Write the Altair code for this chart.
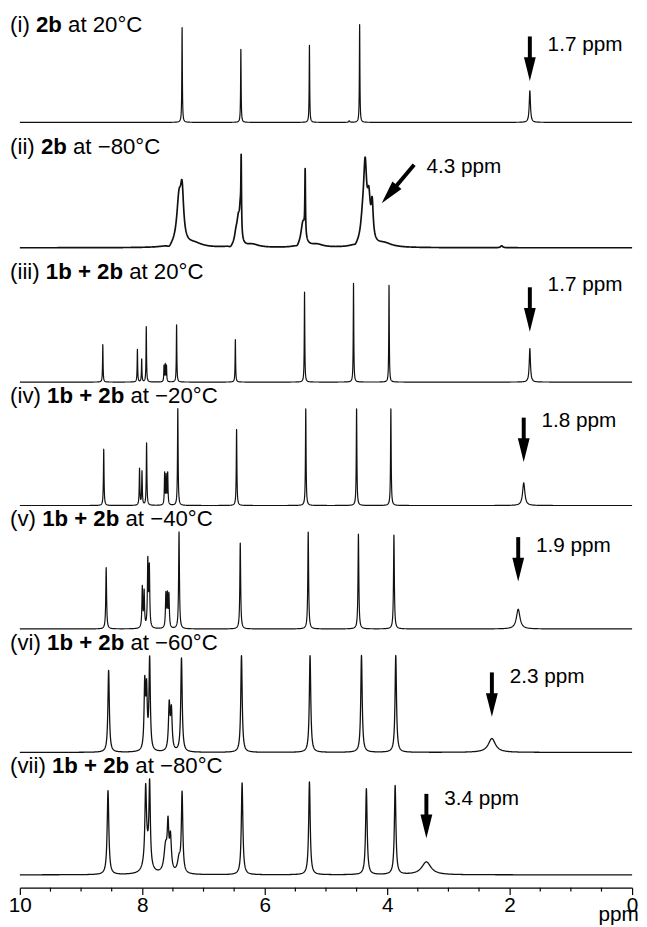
import numpy as np
import pandas as pd
import altair as alt

FONT = "Liberation Sans"

# ---------------- axis ----------------
MAJOR_TICKS = [10, 8, 6, 4, 2, 0]
MINOR_TICKS = [9.5, 9, 8.5, 7.5, 7, 6.5, 5.5, 5, 4.5, 3.5, 3, 2.5, 1.5, 1, 0.5]
AXIS_UNIT = "ppm"

# ---------------- spectrum labels ----------------
NUMERALS = ["(i)", "(ii)", "(iii)", "(iv)", "(v)", "(vi)", "(vii)"]
SAMPLES = ["2b", "2b", "1b + 2b", "1b + 2b", "1b + 2b", "1b + 2b", "1b + 2b"]
TEMPS = ["20°C", "−80°C", "20°C", "−20°C", "−40°C", "−60°C", "−80°C"]

# stacking offset of each trace (intensity units)
OFFSETS = [775, 648, 512, 387, 262, 137, 13]
LABEL_RISE = [99, 102, 111, 111, 111, 111, 110]
LINE_W = [1.2, 1.7, 1.2, 1.2, 1.2, 1.3, 1.3]

# peaks of each trace: (shift / ppm, height, half width / ppm)
PEAKS_I = [(7.35, 96, 0.005), (6.39, 74, 0.005), (5.27, 78, 0.005),
           (4.45, 99, 0.005), (4.62, 1.5, 0.01), (1.67, 32, 0.012)]
PEAKS_II = [(7.40, 46, 0.045), (7.35, 46, 0.03), (7.15, 4, 0.15), (7.56, -3, 0.04),
            (6.385, 72, 0.006), (6.40, 25, 0.015), (6.43, 25, 0.03), (6.47, 10, 0.03),
            (6.2, 3, 0.12), (6.56, -2, 0.03),
            (5.34, 65, 0.006), (5.375, 25, 0.04), (5.15, 3, 0.12), (5.47, -2, 0.03),
            (4.36, 72, 0.03), (4.40, 20, 0.04), (4.30, 40, 0.03), (4.245, 35, 0.02),
            (4.05, 4, 0.15), (4.52, -2, 0.03), (2.13, 2, 0.02)]
PEAKS_III = [(8.645, 38, 0.005), (8.08, 33, 0.005), (8.01, 23, 0.005), (7.935, 56, 0.005),
             (7.645, 16, 0.005), (7.625, 17, 0.005), (7.605, 16, 0.005),
             (7.44, 58, 0.005), (6.48, 43, 0.005), (5.35, 91, 0.005), (4.55, 100, 0.005),
             (3.97, 98, 0.005), (1.67, 34, 0.012)]
PEAKS_IV = [(8.63, 57, 0.006), (8.045, 37, 0.006), (8.005, 34, 0.006), (7.93, 63, 0.006),
            (7.635, 32, 0.006), (7.61, 29, 0.006), (7.585, 32, 0.006),
            (7.42, 98, 0.006), (6.46, 77, 0.006), (5.33, 98, 0.006), (4.50, 98, 0.006),
            (3.94, 98, 0.006), (1.77, 23, 0.022)]
PEAKS_V = [(8.59, 62, 0.008), (8.00, 41, 0.008), (7.97, 36, 0.008), (7.91, 67, 0.008),
           (7.885, 60, 0.008), (7.615, 34, 0.008), (7.59, 32, 0.008), (7.565, 33, 0.008),
           (7.40, 98, 0.008), (6.40, 87, 0.008), (5.29, 98, 0.008), (4.47, 96, 0.008),
           (3.89, 95, 0.008), (1.86, 20, 0.035)]
PEAKS_VI = [(8.55, 83, 0.014), (7.96, 66, 0.013), (7.93, 58, 0.013), (7.88, 92, 0.013),
            (7.56, 46, 0.015), (7.525, 40, 0.015), (7.36, 95, 0.014), (6.38, 98, 0.014),
            (5.26, 98, 0.014), (4.42, 98, 0.014), (3.86, 98, 0.014), (2.29, 14, 0.07)]
PEAKS_VII = [(8.56, 85, 0.016), (7.945, 72, 0.015), (7.88, 80, 0.013), (7.92, 21, 0.05),
             (7.62, 26, 0.03), (7.58, 43, 0.015), (7.54, 34, 0.018), (7.40, 14, 0.03),
             (7.35, 80, 0.014), (6.37, 93, 0.015), (5.27, 94, 0.015), (4.34, 87, 0.015),
             (3.87, 90, 0.015), (3.36, 13, 0.09)]
ALL_PEAKS = [PEAKS_I, PEAKS_II, PEAKS_III, PEAKS_IV, PEAKS_V, PEAKS_VI, PEAKS_VII]

# arrow annotations (vertical arrows): trace index, shift, tip height above trace, text
ARROW_TRACE = [0, 2, 3, 4, 5, 6]
ARROW_PPM = [1.67, 1.67, 1.77, 1.86, 2.29, 3.36]
ARROW_TIP = [42, 51, 44, 48, 36, 37]
TEXT_RISE = [36, 47, 42, 36, 40, 40]
ARROW_TEXT = ["1.7 ppm", "1.7 ppm", "1.8 ppm", "1.9 ppm", "2.3 ppm", "3.4 ppm"]
# slanted arrow on trace (ii)
SLANT_TRACE = 1
SLANT_TIP = (4.09, 45)
SLANT_TAIL = (3.56, 84)
SLANT_TEXT = ("4.3 ppm", 3.36, 82)

# ---------------- layout ----------------
W, H = 620, 885
PX = W / 10.0          # pixels per ppm
LABEL_X = 10.16
ARROW_LEN = 45
TEXT_GAP_PX = 18
FS = 21
LABEL_FS = 22.5

REG = {' ': 278, '(': 333, ')': 333, 'i': 222, 'v': 500, 'a': 556, 't': 278, '°': 400,
       'C': 722, '−': 584, '+': 584, 'p': 556, 'm': 833, '.': 278}
BOLD = {'b': 611, ' ': 278, '+': 584}


def text_width(s, size, bold=False):
    table = BOLD if bold else REG
    return sum(table.get(c, 556) for c in s) * size / 1000.0


# ---------------- traces ----------------
rows = []
base_grid = np.linspace(0, 10, 1001)
t = np.geomspace(0.05, 60, 45)
t = np.concatenate([-t[::-1], [0.0], t])
for k, peaks in enumerate(ALL_PEAKS):
    pts = [base_grid]
    for (x0, h, w) in peaks:
        pts.append(x0 + w * t)
    x = np.unique(np.round(np.concatenate(pts), 5))
    x = x[(x >= 0) & (x <= 10)]
    y = np.zeros_like(x)
    for (x0, h, w) in peaks:
        y += h / (1.0 + ((x - x0) / w) ** 2)
    for xi, yi in zip(x, y):
        rows.append({"ppm": float(xi), "y": float(yi + OFFSETS[k]), "trace": k, "lw": LINE_W[k]})
spec = pd.DataFrame(rows)

xs = alt.Scale(domain=[0, 10], reverse=True, nice=False, zero=False)
ys = alt.Scale(domain=[0, H], nice=False, zero=False)
X_AXIS = alt.Axis(
    values=MAJOR_TICKS, format="d", title=None, grid=False,
    labelFont=FONT, labelFontSize=FS, labelColor="black", labelPadding=0,
    labelFlush=False, labelOverlap=False, labelAngle=0,
    tickSize=7, tickWidth=1.2, tickColor="black",
    domainColor="black", domainWidth=1.2)


def X(field="ppm:Q"):
    return alt.X(field, scale=xs, axis=X_AXIS)


def Y(field="y:Q"):
    return alt.Y(field, scale=ys, axis=None)


lines = alt.Chart(spec).mark_line(color="#111111", strokeJoin="round").encode(
    x=X(), y=Y(), detail="trace:N",
    strokeWidth=alt.StrokeWidth("lw:Q", scale=None, legend=None),
)

minor = alt.Chart(pd.DataFrame({"ppm": MINOR_TICKS})).mark_rule(
    color="black", strokeWidth=1.2).encode(
    x=X(), y=alt.value(H), y2=alt.value(H + 4))

# ---------------- labels ----------------
lab = []
for k in range(7):
    yv = OFFSETS[k] + LABEL_RISE[k]
    w1 = text_width(NUMERALS[k] + " ", LABEL_FS)
    w2 = text_width(SAMPLES[k], LABEL_FS, bold=True) + text_width(" ", LABEL_FS)
    lab.append({"ppm": LABEL_X, "y": yv, "text": NUMERALS[k], "bold": 0})
    lab.append({"ppm": LABEL_X - w1 / PX, "y": yv, "text": SAMPLES[k], "bold": 1})
    lab.append({"ppm": LABEL_X - (w1 + w2) / PX, "y": yv, "text": "at " + TEMPS[k], "bold": 0})
lab = pd.DataFrame(lab)


def text_layer(df, weight, size, align="left", baseline="middle"):
    return alt.Chart(df).mark_text(
        align=align, baseline=baseline, font=FONT, fontSize=size,
        fontWeight=weight, color="black").encode(
        x=X(), y=Y(), text="text:N")


lab_reg = text_layer(lab[lab.bold == 0], "normal", LABEL_FS)
lab_bold = text_layer(lab[lab.bold == 1], "bold", LABEL_FS)

# ---------------- arrows ----------------
HEAD = "M -1 -4 L 1 -4 L 0 0 Z"
HEAD_SIZE = 144
shafts, heads, atext = [], [], []
for tr, p, tip, rise, txt in zip(ARROW_TRACE, ARROW_PPM, ARROW_TIP, TEXT_RISE, ARROW_TEXT):
    base = OFFSETS[tr]
    shafts.append({"ppm": p, "ppm2": p, "y": base + tip + ARROW_LEN, "y2": base + tip + 14})
    heads.append({"ppm": p, "y": base + tip, "angle": 0.0})
    atext.append({"ppm": p - TEXT_GAP_PX / PX, "y": base + tip + rise, "text": txt})

base = OFFSETS[SLANT_TRACE]
dxp = -(SLANT_TIP[0] - SLANT_TAIL[0]) * PX
dyp = -(SLANT_TIP[1] - SLANT_TAIL[1])
n = np.hypot(dxp, dyp)
dx, dy = dxp / n, dyp / n
ang = float(np.degrees(np.arctan2(-dx, dy)))
shafts.append({"ppm": SLANT_TAIL[0], "y": base + SLANT_TAIL[1],
               "ppm2": SLANT_TIP[0] + dx * 14 / PX, "y2": base + SLANT_TIP[1] + dy * 14})
heads.append({"ppm": SLANT_TIP[0], "y": base + SLANT_TIP[1], "angle": ang})
atext.append({"ppm": SLANT_TEXT[1], "y": base + SLANT_TEXT[2], "text": SLANT_TEXT[0]})

shaft_layer = alt.Chart(pd.DataFrame(shafts)).mark_rule(
    color="black", strokeWidth=4, strokeCap="butt").encode(
    x=X(), x2="ppm2:Q", y=Y(), y2="y2:Q")

head_layer = alt.Chart(pd.DataFrame(heads)).mark_point(
    shape=HEAD, size=HEAD_SIZE, filled=True, color="black", opacity=1, strokeWidth=0).encode(
    x=X(), y=Y(), angle=alt.Angle("angle:Q", scale=None))

atext_layer = text_layer(pd.DataFrame(atext), "normal", FS)

unit_layer = text_layer(pd.DataFrame([{"ppm": -0.11, "y": -34, "text": AXIS_UNIT}]),
                        "normal", FS, align="right", baseline="alphabetic")

chart = alt.layer(
    lines, minor, lab_reg, lab_bold, shaft_layer, head_layer, atext_layer, unit_layer
).properties(
    width=W, height=H,
    padding={"left": 12, "top": 0, "right": 7, "bottom": 34},
    autosize=alt.AutoSizeParams(type="none"),
    background="white",
).configure_view(stroke=None)

chart.save("out.html", embed_options={"renderer": "svg", "actions": False})
